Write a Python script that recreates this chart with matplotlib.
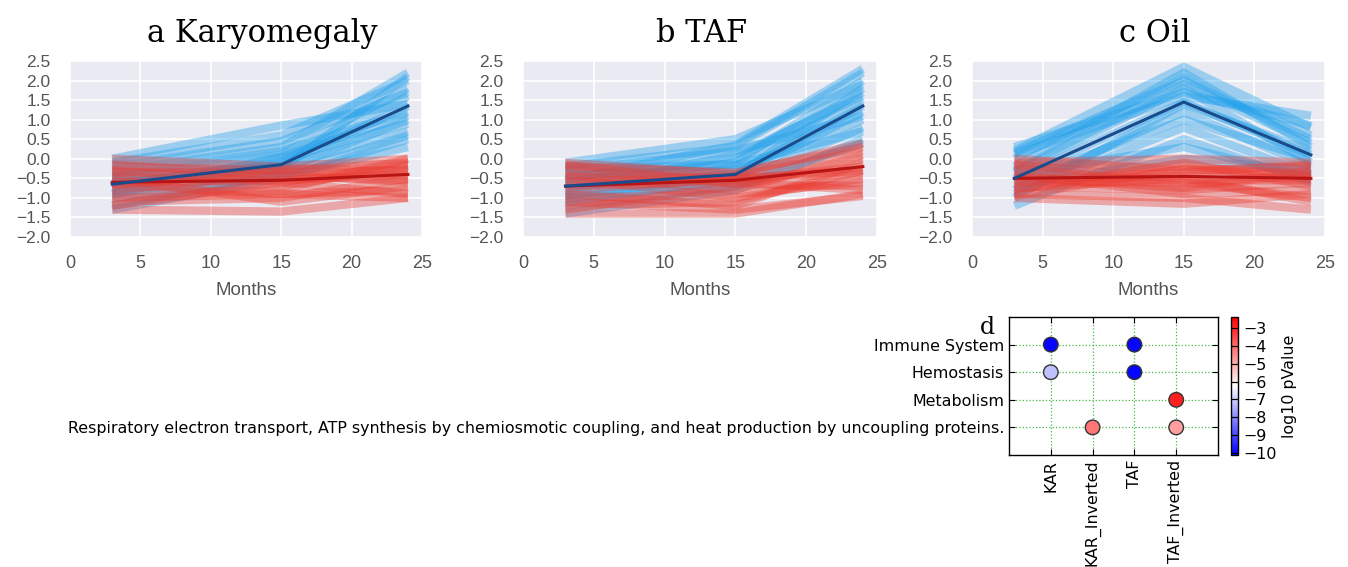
import numpy as np
import matplotlib
matplotlib.use("Agg")
import matplotlib.pyplot as plt
from matplotlib.colors import Normalize

# ---------------- data ----------------
months = [3, 15, 24]

kar_blue = [[-0.65, -0.15, 1.35], [-0.3, 0.3, 2.2], [-0.1, 0.6, 2.0], [-0.9, -0.3, 1.0],
            [-1.2, -0.4, 0.6], [-0.5, 0.1, 1.8], [-0.8, -0.1, 1.6], [0.0, 0.85, 1.4],
            [-1.0, -0.45, 0.3], [-0.4, 0.2, 1.2], [-0.7, 0.0, 0.9], [-1.3, -0.5, 0.5],
            [-0.2, 0.45, 1.7], [-0.6, -0.25, 2.1], [-0.9, 0.05, 1.1], [-0.45, -0.2, 0.7]]
kar_red = [[-0.6, -0.55, -0.4], [-0.2, -0.3, -0.1], [-1.0, -0.9, -0.8], [-1.3, -1.35, -1.0],
           [0.0, -0.2, 0.0], [-0.8, -0.4, -0.6], [-0.4, -0.7, -0.2], [-1.1, -1.0, -0.5],
           [-0.3, -0.6, -0.9], [-0.7, -0.25, -0.3], [-0.9, -0.8, 0.0], [-0.5, -1.1, -0.7],
           [-0.15, -0.45, -0.55], [-1.2, -0.6, -0.15], [-0.65, -0.9, -1.0], [-0.35, -0.35, -0.3]]
kar_blue_mean = [-0.65, -0.15, 1.35]
kar_red_mean = [-0.6, -0.55, -0.4]

taf_blue = [[-0.7, -0.4, 1.35], [-0.2, 0.3, 2.2], [-0.1, 0.5, 1.9], [-1.0, -0.6, 0.8],
            [-1.4, -0.8, 0.5], [-0.5, 0.0, 1.7], [-0.9, -0.2, 1.5], [-0.3, 0.2, 1.1],
            [-1.2, -0.7, 0.4], [-0.6, -0.1, 2.0], [-0.4, -0.3, 1.0], [-0.8, 0.1, 1.6],
            [-1.1, -0.5, 1.2], [-0.25, -0.15, 0.7], [-0.55, 0.35, 2.3], [-0.95, -0.45, 1.8]]
taf_red = [[-0.7, -0.55, -0.2], [-0.2, -0.35, 0.3], [-1.0, -0.9, -0.6], [-1.4, -1.4, -0.9],
           [-0.1, -0.4, 0.4], [-0.8, -0.5, -0.4], [-0.4, -0.8, 0.1], [-1.2, -1.1, -0.3],
           [-0.3, -0.6, -0.8], [-0.6, -0.45, 0.2], [-0.9, -1.2, -0.1], [-0.5, -1.0, -0.5],
           [-1.3, -0.7, 0.0], [-0.15, -0.65, -0.7], [-1.1, -1.3, -0.95], [-0.45, -0.5, -0.3]]
taf_blue_mean = [-0.7, -0.4, 1.35]
taf_red_mean = [-0.7, -0.55, -0.2]

oil_blue = [[-0.5, 1.45, 0.1], [0.2, 2.35, 0.8], [0.0, 2.1, 0.6], [-0.3, 1.9, 0.4],
            [-0.8, 1.2, -0.2], [-1.2, 0.5, -0.6], [0.3, 1.7, 0.85], [-0.6, 1.0, 0.0],
            [-0.2, 2.2, 0.3], [-0.9, 0.8, -0.4], [0.1, 1.6, 1.1], [-0.4, 0.3, -0.5],
            [-1.0, 1.4, 0.2], [-0.7, 0.0, -0.3], [0.15, 2.0, 0.5], [-0.35, 1.8, -0.1]]
oil_red = [[-0.5, -0.45, -0.5], [-0.1, 0.0, -0.1], [-0.9, -1.0, -1.3], [-0.3, -0.2, -0.4],
           [-0.7, -0.8, -0.6], [-1.0, -1.15, -0.9], [0.0, -0.3, -0.2], [-0.6, -0.6, -1.0],
           [-0.2, -0.7, -0.3], [-0.8, -0.1, -0.7], [-0.4, -0.9, -0.8], [-0.55, -0.35, -0.15],
           [-0.75, -0.5, -1.1], [-0.15, -0.55, -0.55], [-0.95, -0.25, -0.45], [-0.45, -0.75, -0.35]]
oil_blue_mean = [-0.5, 1.45, 0.1]
oil_red_mean = [-0.5, -0.45, -0.5]

panel_titles = ["a Karyomegaly", "b TAF", "c Oil"]
y_ticks = [-2.0, -1.5, -1.0, -0.5, 0.0, 0.5, 1.0, 1.5, 2.0, 2.5]
x_ticks = [0, 5, 10, 15, 20, 25]

pathways = ["Immune System", "Hemostasis", "Metabolism",
            "Respiratory electron transport, ATP synthesis by chemiosmotic coupling, "
            "and heat production by uncoupling proteins."]
conditions = ["KAR", "KAR_Inverted", "TAF", "TAF_Inverted"]
# (condition index, pathway index, log10 pValue)
dot_cond = [0, 2, 0, 2, 3, 1, 3]
dot_path = [0, 0, 1, 1, 2, 3, 3]
dot_logp = [-10.0, -10.0, -7.2, -10.0, -2.9, -4.2, -4.8]
cbar_ticks = [-3, -4, -5, -6, -7, -8, -9, -10]

# ---------------- figure ----------------
W, H = 1348, 567
fig = plt.figure(figsize=(W / 100, H / 100), dpi=100)


def px_axes(left, top, right, bottom):
    return fig.add_axes([left / W, 1 - bottom / H, (right - left) / W, (bottom - top) / H])


blue_c = "#1ea0eb"
red_c = "#ec3c32"
blue_mean_c = "#1a4c8c"
red_mean_c = "#b81414"
tick_c = "#555555"

panels = [
    (kar_blue, kar_red, kar_blue_mean, kar_red_mean, (70, 61, 422, 237), 262),
    (taf_blue, taf_red, taf_blue_mean, taf_red_mean, (523, 61, 877, 237), 702),
    (oil_blue, oil_red, oil_blue_mean, oil_red_mean, (972, 61, 1325, 237), 1155),
]

for (blues, reds, bm, rm, box, tx), title in zip(panels, panel_titles):
    ax = px_axes(*box)
    ax.set_facecolor("#EAEAF2")
    for s in ax.spines.values():
        s.set_visible(False)
    ax.grid(True, color="white", lw=1.2)
    ax.set_axisbelow(True)
    for ln in blues:
        ax.plot(months, ln, color=blue_c, alpha=0.38, lw=6.0, solid_capstyle="butt")
    for ln in reds:
        ax.plot(months, ln, color=red_c, alpha=0.38, lw=6.0, solid_capstyle="butt")
    ax.plot(months, rm, color=red_mean_c, lw=2.2)
    ax.plot(months, bm, color=blue_mean_c, lw=2.2)
    ax.set_xlim(0, 25)
    ax.set_ylim(-2.0, 2.5)
    ax.set_xticks(x_ticks)
    ax.set_yticks(y_ticks)
    ax.set_yticklabels([f"{v:.1f}".replace("-", "\u2212") for v in y_ticks])
    ax.tick_params(axis="y", length=0, labelsize=12.5, labelcolor=tick_c, pad=14)
    ax.tick_params(axis="x", length=0, labelsize=13, labelcolor=tick_c, pad=13)
    for lab in ax.get_xticklabels() + ax.get_yticklabels():
        lab.set_family("Liberation Sans")
    ax.set_xlabel("Months", fontsize=13.5, color=tick_c, family="Liberation Sans", labelpad=7)
    fig.text(tx / W, 1 - 42 / H, title, ha="center", va="baseline",
             fontsize=22, family="DejaVu Serif")

# ---------------- panel d ----------------
axd = px_axes(1009, 317, 1218, 455)
cmap = plt.get_cmap("bwr")
norm = Normalize(vmin=-10.1, vmax=-2.4)
sc = axd.scatter(dot_cond, dot_path, c=dot_logp, cmap=cmap, norm=norm, s=110,
                 edgecolors="#333333", linewidths=1.0, zorder=3)
axd.set_xlim(-1, 4)
axd.set_ylim(4, -1)
axd.set_xticks(range(len(conditions)))
axd.set_xticklabels(conditions, rotation=90, fontsize=11.4)
axd.set_yticks(range(len(pathways)))
axd.set_yticklabels(pathways, fontsize=11.4)
axd.grid(True, color="#44bb44", linestyle=":", lw=0.9)
axd.tick_params(direction="in", top=True, right=True, length=4)
for s in axd.spines.values():
    s.set_linewidth(1.0)

cax = px_axes(1231, 317, 1238, 455)
cb = fig.colorbar(sc, cax=cax)
cb.set_ticks(cbar_ticks)
cb.ax.set_yticklabels([str(t).replace("-", "\u2212") for t in cbar_ticks], fontsize=11.4)
cb.ax.tick_params(direction="in", length=5, right=True, left=True)
cb.set_label("log10 pValue", fontsize=11.4, labelpad=4)
cb.outline.set_linewidth(1.0)

fig.text(987 / W, 1 - 334 / H, "d", ha="center", va="baseline",
         fontsize=17, family="DejaVu Serif")

fig.savefig("out.png", dpi=100)
